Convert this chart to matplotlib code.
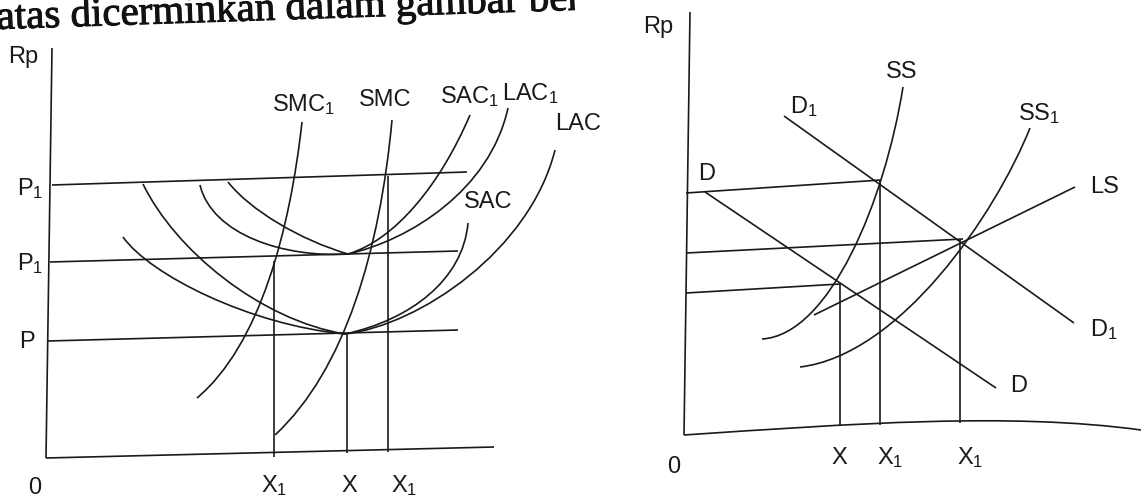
import matplotlib
matplotlib.use("Agg")
import matplotlib.pyplot as plt
import matplotlib.patheffects as pe
from matplotlib.path import Path
from matplotlib.patches import PathPatch, Rectangle

plt.rcParams['font.family'] = ['Liberation Sans', 'DejaVu Sans']
plt.rcParams['mathtext.fontset'] = 'custom'
plt.rcParams['mathtext.rm'] = 'Liberation Sans'
plt.rcParams['mathtext.it'] = 'Liberation Sans'

# ---------------- left diagram: cost curves (points in drawing units) -------------
left_axis_y = [(52, 48), (46, 458)]
left_axis_x = [(46, 458), (494, 447)]
price_p1_top = [(52, 185), (467, 172)]
price_p1_mid = [(50, 262), (458, 251)]
price_p = [(48, 341), (458, 330)]
drop_x1_left = [(274, 261), (274, 457)]
drop_x = [(347, 333), (347, 453)]
drop_x1_right = [(388, 176), (388, 452)]

# cubic Bezier chains: start, ctrl, ctrl, end, ctrl, ctrl, end ...
smc1 = [(302, 122), (290, 230), (260, 345), (197, 398)]
smc = [(392, 120), (380, 250), (345, 370), (275, 435)]
lac = [(143, 184), (175, 250), (260, 320), (345, 334),
       (420, 325), (530, 250), (555, 150)]
sac = [(123, 237), (150, 275), (250, 325), (345, 334),
       (410, 320), (463, 280), (468, 223)]
lac1 = [(200, 185), (212, 235), (285, 258), (348, 254),
        (410, 240), (490, 190), (508, 108)]
sac1 = [(228, 182), (250, 210), (300, 240), (348, 254),
        (395, 240), (440, 185), (470, 115)]

# ---------------- right diagram: demand / supply ----------------
right_axis_y = [(690, 12), (684, 435)]
right_axis_x = [(684, 435), (850, 424), (1010, 412), (1141, 430)]
demand_d = [(705, 192), (996, 388)]
demand_d1 = [(784, 116), (1074, 323)]
supply_ls = [(814, 315), (1075, 187)]
supply_ss = [(903, 87), (885, 200), (830, 335), (762, 339)]
supply_ss1 = [(1030, 128), (995, 215), (900, 355), (800, 367)]
price_top_r = [(686, 193), (881, 180)]
price_mid_r = [(686, 253), (963, 239)]
price_bot_r = [(686, 293), (840, 284)]
drop_x_r = [(840, 284), (840, 426)]
drop_x1_r = [(880, 180), (880, 425)]
drop_x1b_r = [(960, 240), (960, 423)]

# labels: (text, left x, baseline y)
left_labels = [
    ("Rp", 8, 63), ("P$_1$", 17, 195), ("P$_1$", 17, 270), ("P", 19, 348),
    ("0", 28, 494), ("X$_1$", 261, 492), ("X", 341, 492), ("X$_1$", 391, 492),
    ("SMC$_1$", 272, 111), ("SMC", 359, 106), ("SAC$_1$", 440, 103),
    ("LAC$_1$", 502, 100), ("LAC", 555, 130), ("SAC", 464, 208),
]
right_labels = [
    ("Rp", 643, 33), ("SS", 886, 78), ("D$_1$", 790, 113), ("SS$_1$", 1018, 120),
    ("D", 698, 180), ("LS", 1090, 193), ("D$_1$", 1090, 336), ("D", 1010, 392),
    ("0", 667, 473), ("X", 831, 464), ("X$_1$", 877, 464), ("X$_1$", 957, 464),
]

header_text = "atas dicerminkan dalam gambar berikut ini."

INK = "#1a1a1a"
LW = 1.2

fig = plt.figure(figsize=(11.41, 5.0), dpi=100)
ax = fig.add_axes([0, 0, 1, 1])
ax.set_xlim(0, 1141)
ax.set_ylim(500, 0)
ax.axis("off")


def segment(pts):
    xs, ys = zip(*pts)
    ax.plot(xs, ys, color=INK, lw=LW, solid_capstyle="butt")


def bezier(pts):
    codes = [Path.MOVETO] + [Path.CURVE4] * (len(pts) - 1)
    ax.add_patch(PathPatch(Path(pts, codes), fill=False, edgecolor=INK, lw=LW))


for seg in [left_axis_y, left_axis_x, price_p1_top, price_p1_mid, price_p,
            drop_x1_left, drop_x, drop_x1_right,
            right_axis_y, demand_d, demand_d1, supply_ls,
            price_top_r, price_mid_r, price_bot_r,
            drop_x_r, drop_x1_r, drop_x1b_r]:
    segment(seg)

for crv in [smc1, smc, lac, sac, lac1, sac1, right_axis_x, supply_ss, supply_ss1]:
    bezier(crv)

for txt, x, y in left_labels + right_labels:
    ax.text(x, y, txt, fontsize=17, color=INK, ha="left", va="baseline")

head = ax.text(-3, 29, header_text, fontsize=29.5, family="Liberation Serif",
               color="#111111", ha="left", va="baseline",
               rotation=1.9, rotation_mode="anchor",
               path_effects=[pe.withStroke(linewidth=0.7, foreground="#111111")])
head.set_clip_on(True)
head.set_clip_path(Rectangle((-10, -10), 585, 80, transform=ax.transData))

fig.savefig("out.png", dpi=100, facecolor="white")
